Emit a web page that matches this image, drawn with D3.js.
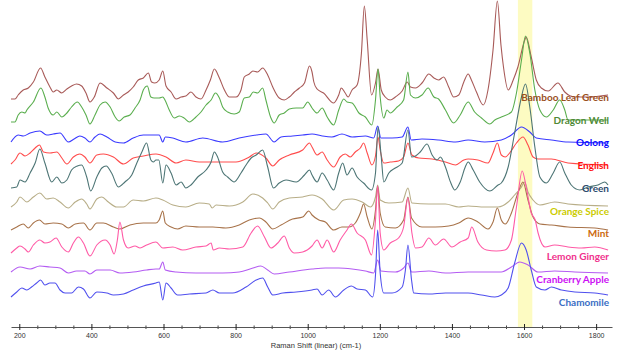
<!DOCTYPE html>
<html>
<head>
<meta charset="utf-8">
<script src="https://cdn.jsdelivr.net/npm/d3@7"></script>
<style>
  body { margin: 0; background: #fff; }
  .chart text { font-family: "Liberation Sans", Arial, sans-serif; }
</style>
</head>
<body>
<div class="chart"></div>
<script>
// tea names, top to bottom
const teas = ["Bamboo Leaf Green", "Dragon Well", "Oolong", "English", "Green",
              "Orange Spice", "Mint", "Lemon Ginger", "Cranberry Apple", "Chamomile"];

// vertical stacking offsets (intensity units)
const offsets = [234, 210, 188, 166, 144, 124, 101, 80, 57, 35];

// highlighted region (cm-1)
const highlight = [1583, 1623];

const majorTicks = [200, 400, 600, 800, 1000, 1200, 1400, 1600, 1800];

// spectra: [raman shift cm-1, intensity]
const bambooLeafGreen = [[177,-3],[188,-3],[197,1],[211,6],[225,8],[239,14],[259,28],[271,19],[285,9],[294,4],[304,6],[318,3],[332,7],[345,10],[359,12],[373,10],[385,3],[396,-6],[408,-1],[424,13],[443,8],[461,3],[475,-3],[489,1],[502,4],[516,9],[530,16],[544,18],[558,23],[567,14],[576,13],[588,16],[598,25],[607,10],[621,4],[635,-3],[649,-1],[662,0],[676,4],[690,-1],[704,-3],[718,6],[730,16],[741,27],[755,18],[769,6],[783,-1],[801,-1],[815,6],[824,19],[838,22],[848,25],[861,24],[875,28],[889,21],[903,9],[921,-2],[935,-4],[949,-1],[963,4],[977,8],[991,13],[1005,30],[1012,24],[1017,14],[1026,7],[1044,3],[1072,-7],[1086,1],[1093,8],[1104,3],[1112,-1],[1123,6],[1137,11],[1149,43],[1157,90],[1165,56],[1177,1],[1188,13],[1195,27],[1204,6],[1215,-1],[1229,-4],[1243,-1],[1262,5],[1276,14],[1285,9],[1299,8],[1317,13],[1336,22],[1350,18],[1363,16],[1377,19],[1391,9],[1405,-1],[1419,1],[1433,14],[1445,22],[1454,16],[1468,4],[1487,-9],[1500,6],[1514,46],[1526,95],[1536,51],[1543,29],[1556,6],[1570,16],[1583,29],[1602,56],[1606,59],[1620,39],[1634,16],[1648,8],[1667,5],[1694,13],[1713,4],[1741,-1],[1778,-1],[1833,1]];

const dragonWell = [[177,-2],[188,-2],[197,5],[207,8],[216,7],[221,10],[239,18],[260,32],[271,23],[280,12],[294,5],[304,8],[318,3],[332,7],[345,13],[361,18],[373,13],[385,5],[396,-4],[410,5],[424,15],[438,18],[452,13],[466,3],[477,-1],[491,3],[507,5],[521,12],[535,20],[544,30],[555,34],[565,23],[574,22],[588,22],[598,23],[604,20],[616,10],[630,2],[644,4],[657,2],[672,-2],[690,3],[704,8],[718,15],[732,20],[744,27],[755,22],[764,13],[778,8],[796,6],[810,8],[824,22],[838,23],[849,28],[861,27],[875,32],[884,20],[898,2],[907,-3],[921,5],[935,7],[949,11],[968,12],[986,12],[1000,18],[1012,12],[1026,7],[1040,12],[1054,3],[1072,-5],[1086,10],[1100,21],[1109,18],[1123,17],[1142,7],[1160,3],[1178,-5],[1188,20],[1195,51],[1201,23],[1211,2],[1220,10],[1229,7],[1248,13],[1266,20],[1278,48],[1285,25],[1299,22],[1317,25],[1334,32],[1350,23],[1363,21],[1382,10],[1405,-3],[1423,5],[1445,18],[1463,8],[1482,2],[1505,-4],[1519,0],[1537,3],[1565,8],[1579,27],[1593,60],[1604,84],[1616,67],[1630,30],[1644,10],[1662,3],[1681,10],[1699,20],[1713,10],[1722,0],[1755,0],[1833,0]];

const oolong = [[177,0],[197,7],[211,6],[230,9],[257,11],[276,7],[294,8],[313,9],[336,0],[352,3],[368,6],[382,4],[396,0],[410,5],[424,8],[443,5],[466,0],[489,-1],[516,4],[544,7],[572,7],[588,7],[598,0],[605,5],[626,4],[662,0],[709,4],[764,0],[810,4],[857,7],[884,8],[907,0],[926,5],[958,6],[986,7],[1012,8],[1040,6],[1067,5],[1095,8],[1123,5],[1160,6],[1183,4],[1194,16],[1203,4],[1234,4],[1262,5],[1278,15],[1287,2],[1317,3],[1363,2],[1410,0],[1445,2],[1491,0],[1537,2],[1565,7],[1593,15],[1616,10],[1634,4],[1676,2],[1722,0],[1833,-1]];

const english = [[177,0],[188,4],[202,11],[216,8],[230,11],[244,16],[256,19],[267,12],[285,11],[304,12],[318,6],[332,0],[350,7],[368,10],[382,7],[396,1],[415,9],[433,10],[461,7],[489,0],[516,6],[544,8],[579,10],[607,7],[635,1],[662,4],[699,2],[746,2],[801,2],[838,7],[857,11],[884,6],[903,-2],[921,4],[949,9],[986,14],[1005,21],[1012,17],[1026,9],[1040,12],[1054,4],[1072,-3],[1090,7],[1104,10],[1118,7],[1132,12],[1146,16],[1155,21],[1165,11],[1178,-1],[1188,8],[1195,27],[1201,14],[1211,1],[1229,2],[1252,3],[1266,7],[1278,21],[1289,9],[1308,6],[1345,5],[1382,2],[1410,-1],[1433,4],[1445,5],[1472,4],[1500,1],[1514,11],[1526,21],[1537,9],[1548,7],[1560,11],[1579,21],[1597,27],[1611,19],[1625,7],[1639,5],[1676,5],[1722,1],[1833,-1]];

const green = [[177,-2],[193,-1],[202,6],[216,4],[230,13],[244,23],[257,37],[271,23],[290,4],[304,9],[318,3],[332,6],[345,16],[361,20],[373,21],[387,9],[398,-5],[415,9],[429,18],[441,20],[456,13],[475,-1],[493,4],[512,11],[526,23],[540,34],[553,43],[565,26],[572,24],[579,26],[587,26],[598,3],[607,21],[621,13],[635,1],[649,4],[662,-2],[676,1],[695,9],[718,16],[732,24],[741,34],[750,29],[764,14],[778,9],[796,4],[815,13],[829,21],[843,28],[857,31],[875,36],[889,19],[905,-2],[921,3],[940,6],[968,4],[991,11],[1005,16],[1012,11],[1026,4],[1040,13],[1054,6],[1072,-4],[1086,13],[1097,23],[1109,11],[1123,18],[1137,9],[1155,3],[1177,-4],[1188,13],[1195,59],[1204,29],[1211,4],[1225,13],[1243,18],[1262,23],[1278,56],[1288,29],[1299,30],[1312,34],[1331,42],[1345,31],[1359,26],[1368,29],[1382,19],[1396,4],[1408,-4],[1423,4],[1437,19],[1445,24],[1459,16],[1477,4],[1505,-5],[1528,1],[1537,3],[1556,19],[1574,53],[1591,86],[1604,102],[1616,79],[1630,39],[1644,9],[1662,3],[1681,13],[1699,24],[1713,13],[1731,1],[1755,-4],[1778,-1],[1805,1],[1824,4],[1833,1]];

const orangeSpice = [[177,-1],[193,4],[202,9],[221,4],[239,9],[257,13],[276,7],[294,8],[313,4],[336,-2],[355,4],[373,7],[387,2],[396,-3],[415,7],[429,9],[447,4],[470,-1],[489,-1],[516,6],[544,5],[579,8],[598,6],[626,1],[662,-1],[699,3],[727,2],[735,-2],[746,1],[783,0],[820,4],[848,12],[875,8],[889,3],[903,-3],[921,4],[949,8],[986,9],[1012,11],[1040,7],[1072,-4],[1100,6],[1123,7],[1151,4],[1174,-1],[1188,9],[1194,21],[1201,6],[1225,3],[1262,4],[1278,18],[1289,3],[1336,2],[1382,2],[1419,-1],[1445,0],[1491,-1],[1528,-1],[1556,4],[1574,11],[1591,18],[1602,24],[1611,14],[1625,6],[1644,1],[1685,4],[1722,2],[1833,0]];

const mint = [[177,-1],[193,2],[211,5],[225,1],[239,6],[256,9],[271,5],[294,6],[318,5],[336,1],[355,5],[378,6],[396,-1],[415,6],[433,6],[461,2],[479,0],[507,4],[544,6],[579,6],[588,9],[598,18],[605,6],[621,2],[639,0],[662,3],[699,2],[737,2],[773,1],[810,4],[838,9],[866,11],[884,7],[903,0],[926,4],[958,10],[986,12],[1003,18],[1012,14],[1031,9],[1049,7],[1072,-1],[1095,2],[1114,2],[1132,6],[1146,16],[1155,25],[1165,12],[1178,0],[1188,19],[1194,43],[1201,16],[1215,2],[1243,1],[1266,9],[1278,32],[1288,11],[1317,2],[1354,2],[1391,3],[1419,6],[1445,11],[1472,7],[1500,0],[1514,7],[1526,21],[1537,9],[1548,5],[1565,16],[1583,36],[1597,47],[1611,29],[1625,12],[1644,5],[1676,4],[1722,2],[1796,1],[1833,-1]];

const lemonGinger = [[177,-3],[193,2],[202,4],[216,1],[225,-2],[239,5],[257,10],[271,7],[285,8],[302,12],[318,3],[336,-2],[350,7],[364,13],[378,7],[396,-6],[415,5],[438,10],[452,5],[463,-4],[472,10],[479,28],[489,10],[502,2],[521,4],[535,2],[553,5],[579,8],[598,2],[626,3],[653,0],[690,3],[718,4],[732,7],[738,0],[755,2],[783,1],[820,3],[843,17],[861,24],[880,13],[898,2],[917,7],[935,14],[949,2],[963,-3],[986,-2],[1012,4],[1026,10],[1040,2],[1054,10],[1072,-2],[1090,10],[1109,20],[1121,26],[1137,17],[1160,10],[1177,-5],[1188,30],[1194,64],[1201,17],[1211,0],[1229,7],[1252,12],[1266,23],[1278,52],[1289,17],[1299,2],[1317,3],[1336,12],[1354,5],[1377,11],[1400,3],[1423,8],[1445,12],[1455,23],[1472,8],[1496,0],[1523,-1],[1547,0],[1565,10],[1579,43],[1595,79],[1606,63],[1620,37],[1631,30],[1639,17],[1658,3],[1685,5],[1722,3],[1759,2],[1796,3],[1833,0]];

const cranberryApple = [[177,1],[202,6],[230,4],[257,7],[285,6],[313,5],[336,0],[359,2],[382,2],[396,-1],[415,3],[452,3],[479,0],[516,1],[553,3],[579,4],[588,4],[598,11],[605,3],[635,1],[690,0],[764,0],[810,1],[848,5],[870,7],[889,3],[907,-1],[949,1],[1012,4],[1049,5],[1086,5],[1123,4],[1160,2],[1183,0],[1194,13],[1203,2],[1243,1],[1266,5],[1278,10],[1288,1],[1336,2],[1382,0],[1445,1],[1491,1],[1537,1],[1565,6],[1588,11],[1611,8],[1639,1],[1685,2],[1741,1],[1833,0]];

const chamomile = [[177,-2],[193,3],[207,7],[221,5],[234,8],[248,12],[259,15],[271,10],[285,12],[299,12],[313,5],[327,2],[345,2],[364,8],[378,6],[396,-3],[415,3],[443,2],[461,0],[489,1],[516,5],[544,9],[579,12],[588,13],[598,-5],[607,12],[621,7],[639,0],[672,1],[718,2],[737,5],[755,2],[792,2],[829,8],[857,15],[875,17],[889,8],[903,0],[931,2],[968,3],[1012,5],[1026,6],[1040,0],[1058,5],[1077,-2],[1100,5],[1121,9],[1137,6],[1160,5],[1180,-2],[1188,20],[1194,65],[1201,22],[1211,2],[1234,2],[1262,8],[1271,25],[1278,50],[1288,15],[1294,2],[1336,1],[1382,2],[1445,2],[1482,0],[1519,-2],[1537,0],[1556,7],[1574,32],[1593,52],[1606,45],[1620,25],[1634,8],[1658,5],[1676,8],[1704,5],[1741,3],[1796,2],[1833,0]];

const spectra = [bambooLeafGreen, dragonWell, oolong, english, green,
                 orangeSpice, mint, lemonGinger, cranberryApple, chamomile];

// styling
const lineColors  = ["#a85a58", "#5aae4e", "#3a3aff", "#ff4c4c", "#4d7575",
                     "#b8ae88", "#a8734a", "#ff5aa6", "#b45cf2", "#5050ee"];
const labelColors = ["#9a4f1c", "#4f8a36", "#0a0aff", "#ff1010", "#2d4c6e",
                     "#cccc00", "#cc6a10", "#f0308c", "#cc10f4", "#3a6ec4"];

const W = 624, H = 351;

const svg = d3.select('.chart').append('svg')
    .attr('width', W)
    .attr('height', H)

const x = d3.scaleLinear().domain([177, 1844]).range([11, 612]);
const y = d3.scaleLinear().domain([0, 330]).range([330, 0]);
const axisY = 327;

// yellow band
svg.append('rect')
    .attr('x', x(highlight[0]))
    .attr('y', 0)
    .attr('width', x(highlight[1]) - x(highlight[0]))
    .attr('height', axisY)
    .attr('fill', '#fdfbc2');

const line = d3.line()
    .x(d => x(d[0]))
    .curve(d3.curveMonotoneX);

svg.append('g').selectAll('path')
    .data(spectra)
    .enter()
    .append('path')
        .attr('d', (d, i) => line.y(p => y(p[1] + offsets[i]))(d))
        .attr('fill', 'none')
        .attr('stroke', (d, i) => lineColors[i])
        .attr('stroke-width', 1.1)
        .attr('stroke-linejoin', 'round');

// labels, evenly spaced down the right edge
const labelY = d3.scalePoint().domain(teas).range([101, 305.5]);
svg.append('g').selectAll('text')
    .data(teas)
    .enter()
    .append('text')
        .text(d => d)
        .attr('x', 609)
        .attr('y', d => labelY(d))
        .attr('text-anchor', 'end')
        .attr('fill', (d, i) => labelColors[i])
        .style('font-family', 'Lato, "Open Sans", sans-serif')
        .style('font-weight', 'bold')
        .style('font-size', '10px');

// x axis: minor ticks, then major ticks crossing the line
const minor = svg.append('g')
    .attr('transform', `translate(0, ${axisY})`)
    .call(d3.axisBottom(x).tickValues(d3.range(250, 1800, 50).filter(v => v % 200)).tickSize(2).tickSizeOuter(0).tickFormat(''));
minor.selectAll('.tick line').attr('y1', -1.5).attr('stroke', '#444');
minor.select('.domain').remove();

const major = svg.append('g')
    .attr('transform', `translate(0, ${axisY})`)
    .call(d3.axisBottom(x).tickValues(majorTicks).tickSize(3).tickSizeOuter(0)
        .tickPadding(3).tickFormat(d3.format('d')));
major.select('.domain').attr('stroke', '#555');
major.selectAll('.tick line').attr('y1', -3).attr('stroke', '#222');
major.selectAll('.tick text')
    .style('font-size', '7px')
    .attr('fill', '#333');

svg.append('text')
    .attr('x', 316)
    .attr('y', 348)
    .attr('text-anchor', 'middle')
    .style('font-size', '7.5px')
    .attr('fill', '#333')
    .text('Raman Shift (linear) (cm-1)');
</script>
</body>
</html>
